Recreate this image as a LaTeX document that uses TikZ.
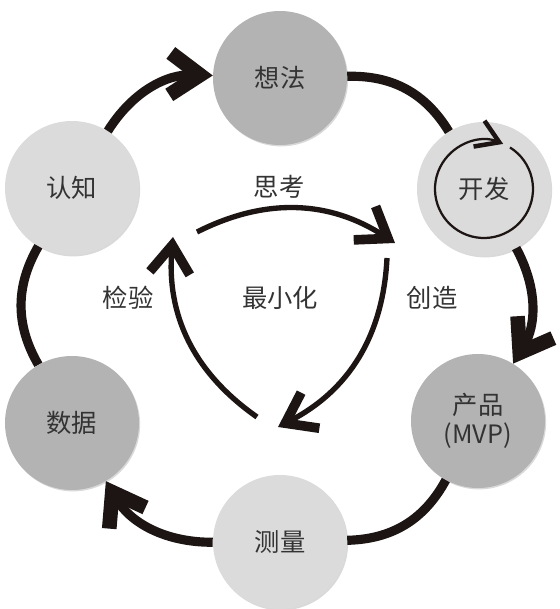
\documentclass[tikz,border=0pt]{standalone}
\usepackage{fontspec}
\setmainfont{Noto Sans CJK SC}
\usepackage{xcolor}
\usepackage{tikz}
\usetikzlibrary{positioning,%
  arrows.meta,%
  shadows,%
  calc%
}
\definecolor{ringline}{HTML}{1C1513}
\definecolor{stagedark}{HTML}{B3B3B3}
\definecolor{stagelight}{HTML}{DBDBDB}
\definecolor{stagetext}{HTML}{333333}

\begin{document}
\begin{tikzpicture}
                    [
                        x=0.25mm, y=0.25mm,
                        every node/.style={text=stagetext, font=\fontsize{18}{21}\selectfont},
                        stage/.style={circle, minimum size=33.5mm, inner sep=0pt, align=center,
                            drop shadow={shadow xshift=0.8pt, shadow yshift=-1pt, opacity=0.3}},
                        darkstage/.style={stage, fill=stagedark},
                        lightstage/.style={stage, fill=stagelight},
                        ringarc/.style={draw=ringline, line width=6.5pt, bend left=30},
                        ringarrow/.style={ringarc, -{Straight Barb[length=7.5mm, width=10.5mm, line width=0pt 1.6]}},
                        innerarrow/.style={draw=ringline, line width=3.8pt, bend left=30,
                            -{Straight Barb[length=7mm, width=10mm, line width=0pt 1.8]}}
                    ]

                    % Rahmen
                    \useasboundingbox (0,0) rectangle (560,609);

                    % Kreise
                    \node[darkstage]  (idea) at (280,531) {想法};
                    \node[lightstage] (dev)  at (484,420) {开发};
                    \node[darkstage]  (prod) at (478,188) {产品\\(MVP)};
                    \node[lightstage] (meas) at (280,67)  {测量};
                    \node[darkstage]  (data) at (72,186)  {数据};
                    \node[lightstage] (cog)  at (72,421)  {认知};

                    % Aussenring
                    \draw[ringarrow] (cog)  to (idea);
                    \draw[ringarc]   (idea) to (dev);
                    \draw[ringarrow] (dev)  to (prod);
                    \draw[ringarc]   (prod) to (meas);
                    \draw[ringarrow] (meas) to (data);
                    \draw[ringarc]   (data) to (cog);

                    % Kreislauf im Entwickeln
                    \draw[draw=ringline, line width=1.6pt, -{Straight Barb[length=5.5mm, width=7mm, line width=0pt 2]}]
                        ([shift={(dev.center)}]58:49) arc[start angle=58, end angle=-293, radius=12.25mm];

                    % Innenkreis
                    \coordinate (thinkA) at (197,377);
                    \coordinate (thinkB) at (395,366);
                    \coordinate (makeA)  at (387,351);
                    \coordinate (makeB)  at (278,182);
                    \coordinate (checkA) at (257,192);
                    \coordinate (checkB) at (173,372);

                    \draw[innerarrow] (thinkA) to (thinkB);
                    \draw[innerarrow] (makeA)  to (makeB);
                    \draw[innerarrow] (checkA) to (checkB);

                    \node (thinklbl) at (279,422) {思考};
                    \node (minlbl)   at (280,311) {最小化};
                    \node (checklbl) at (128,311) {检验};
                    \node (makelbl)  at (432,311) {创造};
                \end{tikzpicture}
\end{document}
